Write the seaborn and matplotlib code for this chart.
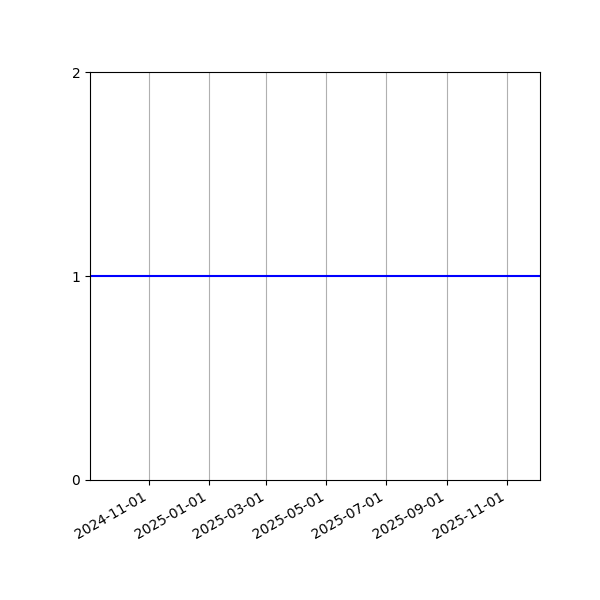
import matplotlib
matplotlib.use('Agg')
import matplotlib.pyplot as plt
import matplotlib.dates as mdates
import seaborn as sns
import pandas as pd

# series: a flat value over the date range
dates = pd.to_datetime(['2024-09-02', '2025-12-05'])
values = [1, 1]
y_ticks = [0, 1, 2]

df = pd.DataFrame({'date': dates, 'value': values})

fig, ax = plt.subplots(figsize=(6, 6), dpi=100)
sns.lineplot(data=df, x='date', y='value', color='blue', linewidth=1.5, ax=ax)

ax.set_xlim(dates[0], dates[-1])
ax.set_ylim(0, 2)
ax.set_yticks(y_ticks)
ax.xaxis.set_major_locator(mdates.MonthLocator(bymonth=[1, 3, 5, 7, 9, 11]))
ax.xaxis.set_major_formatter(mdates.DateFormatter('%Y-%m-%d'))
ax.grid(axis='x')
ax.set_xlabel('')
ax.set_ylabel('')

fig.autofmt_xdate()
fig.subplots_adjust(left=0.15)
plt.savefig('out.png')
